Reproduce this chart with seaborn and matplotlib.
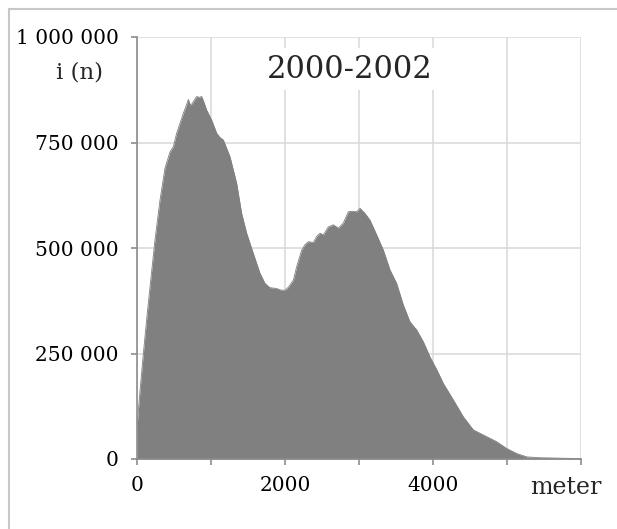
import numpy as np
import matplotlib
matplotlib.use("Agg")
import matplotlib.pyplot as plt
from matplotlib.ticker import MultipleLocator, FuncFormatter
from matplotlib.lines import Line2D
import seaborn as sn
import pandas as pd

meter = [0, 40, 86, 130, 176, 243, 311, 378, 446, 491,
         536, 580, 626, 660, 694, 720, 748, 780, 806, 840,
         874, 905, 941, 1009, 1077, 1120, 1167, 1257, 1347, 1414,
         1482, 1572, 1662, 1730, 1797, 1887, 1950, 2000, 2045, 2113,
         2158, 2225, 2270, 2315, 2383, 2430, 2473, 2518, 2585, 2653,
         2720, 2788, 2856, 2910, 2968, 3014, 3081, 3149, 3239, 3329,
         3419, 3509, 3599, 3689, 3779, 3869, 3959, 4050, 4140, 4275,
         4410, 4545, 4680, 4860, 4995, 5131, 5266, 5446, 5700, 6000]
antal = [76, 160, 250, 330, 408, 519, 614, 689, 728, 740,
         772, 795, 819, 835, 852, 838, 843, 852, 859, 857,
         859, 845, 827, 803, 772, 762, 756, 716, 653, 582,
         535, 487, 440, 416, 406, 404, 400, 400, 407, 424,
         456, 495, 508, 515, 513, 528, 535, 531, 550, 555,
         547, 559, 586, 587, 586, 594, 582, 566, 531, 495,
         448, 416, 365, 325, 306, 278, 242, 212, 179, 140,
         100, 69, 57, 41, 25, 13, 5, 3, 2, 1]
antal = [a * 1000 for a in antal]

title = "2000-2002"
ylab = "i (n)"
xlab = "meter"

df = pd.DataFrame({"meter": meter, "n": antal})

sn.set_style("white")
plt.rcParams["font.family"] = ["DejaVu Serif"]

fig = plt.figure(figsize=(6.17, 5.29), dpi=100)
ax = fig.add_axes([137 / 617, 1 - 459 / 529, 444 / 617, 422 / 529])

ax.fill_between(df["meter"], df["n"], 0, color="#808080", lw=0, zorder=2)
sn.lineplot(data=df, x="meter", y="n", ax=ax, color="#808080", lw=0.6, zorder=2)

ax.set_xlim(0, 6000)
ax.set_ylim(0, 1000000)
ax.xaxis.set_major_locator(MultipleLocator(1000))
ax.yaxis.set_major_locator(MultipleLocator(250000))
ax.xaxis.set_major_formatter(FuncFormatter(lambda v, p: f"{int(v)}" if int(v) % 2000 == 0 and v < 6000 else ""))
ax.yaxis.set_major_formatter(FuncFormatter(lambda v, p: f"{int(v):,}".replace(",", " ")))

ax.grid(True, color="#d9d9d9", lw=1.1, zorder=0)
ax.set_axisbelow(True)
for s in ["top", "right"]:
    ax.spines[s].set_visible(False)
for s in ["left", "bottom"]:
    ax.spines[s].set_color("#8c8c8c")
    ax.spines[s].set_linewidth(1.2)
    ax.spines[s].set_zorder(3)
ax.tick_params(axis="both", direction="out", color="#8c8c8c", length=4.5, width=1.2,
               labelsize=14.5, labelcolor="black")
ax.tick_params(axis="y", pad=8.5)
ax.tick_params(axis="x", pad=8, bottom=True)
ax.tick_params(axis="y", left=True)
ax.set_xlabel("")
ax.set_ylabel("")

fig.text(350 / 617, 1 - 69 / 529, title, ha="center", va="center", fontsize=22,
         bbox=dict(facecolor="white", edgecolor="none", pad=4))
fig.text(79 / 617, 1 - 72 / 529, ylab, ha="center", va="center", fontsize=16.5)
fig.text(566 / 617, 1 - 487 / 529, xlab, ha="center", va="center", fontsize=17)

# outer frame (only top and left edges are visible)
fig.add_artist(Line2D([8.5 / 617, 8.5 / 617], [0, 1 - 8.5 / 529], color="#c8c8c8", lw=1.5))
fig.add_artist(Line2D([8.5 / 617, 1], [1 - 8.5 / 529, 1 - 8.5 / 529], color="#c8c8c8", lw=1.5))

plt.savefig("out.png", dpi=100)
